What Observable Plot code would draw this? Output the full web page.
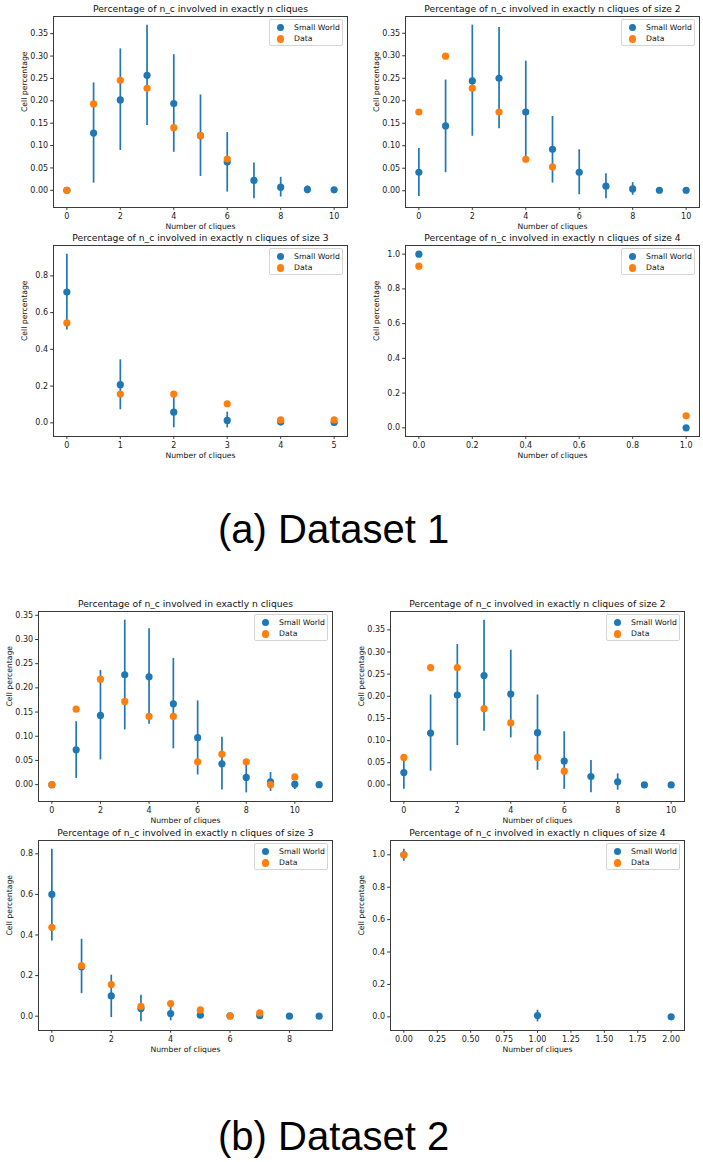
<!DOCTYPE html>
<html>
<head>
<meta charset="utf-8">
<script src="https://cdn.jsdelivr.net/npm/d3@7"></script>
<script src="https://cdn.jsdelivr.net/npm/@observablehq/plot@0.6"></script>
<style>
  html, body { margin: 0; padding: 0; background: #fff; overflow: hidden; }
  #page { position: relative; width: 703px; height: 1162px; background: #fff; }
  .panel { position: absolute; }
  .legend { position: absolute; box-sizing: border-box; width: 74px; height: 27px; border: 1px solid #d4d4d4; border-radius: 2px; background: rgba(255,255,255,0.8); font-family: "DejaVu Sans"; font-size: 7.7px; color: #111; }
  .legend .row { position: absolute; left: 0; height: 10px; width: 100%; }
  .legend .sw { position: absolute; width: 7.2px; height: 7.2px; border-radius: 50%; }
  .legend .lab { position: absolute; left: 24px; line-height: 10px; white-space: nowrap; }
  .caption { position: absolute; font-family: "Liberation Sans", Arial, sans-serif; font-size: 40px; line-height: 40px; color: #000; white-space: nowrap; }
</style>
</head>
<body>
<div id="page"></div>
<script>
// ---------- Data ----------
const blue = "#1f77b4", orange = "#ff7f0e";
const seriesNames = ["Small World", "Data"];
const xLabel = "Number of cliques";
const yLabel = "Cell percentage";

const titleAll = "Percentage of n_c involved in exactly n cliques";
const titleS2 = "Percentage of n_c involved in exactly n cliques of size 2";
const titleS3 = "Percentage of n_c involved in exactly n cliques of size 3";
const titleS4 = "Percentage of n_c involved in exactly n cliques of size 4";

// Dataset 1 — all cliques
const d1All_x    = [0, 1, 2, 3, 4, 5, 6, 7, 8, 9, 10];
const d1All_sw   = [0, 0.128, 0.202, 0.257, 0.194, 0.122, 0.063, 0.022, 0.007, 0.002, 0.001];
const d1All_lo   = [0, 0.016, 0.089, 0.145, 0.085, 0.031, -0.004, -0.019, -0.015, -0.008, -0.003];
const d1All_hi   = [0, 0.240, 0.316, 0.369, 0.303, 0.213, 0.129, 0.061, 0.029, 0.010, 0.004];
const d1All_dx   = [0, 1, 2, 3, 4, 5, 6];
const d1All_data = [0, 0.193, 0.246, 0.228, 0.140, 0.122, 0.070];

// Dataset 1 — size 2
const d1S2_x    = [0, 1, 2, 3, 4, 5, 6, 7, 8, 9, 10];
const d1S2_sw   = [0.041, 0.144, 0.244, 0.250, 0.175, 0.092, 0.041, 0.010, 0.004, 0.001, 0.001];
const d1S2_lo   = [-0.013, 0.040, 0.121, 0.138, 0.065, 0.017, -0.009, -0.018, -0.010, -0.002, -0.001];
const d1S2_hi   = [0.094, 0.246, 0.368, 0.363, 0.288, 0.165, 0.091, 0.038, 0.018, 0.003, 0.002];
const d1S2_dx   = [0, 1, 2, 3, 4, 5];
const d1S2_data = [0.175, 0.299, 0.228, 0.175, 0.070, 0.053];

// Dataset 1 — size 3
const d1S3_x    = [0, 1, 2, 3, 4, 5];
const d1S3_sw   = [0.712, 0.208, 0.058, 0.013, 0.004, 0.002];
const d1S3_lo   = [0.506, 0.071, -0.027, -0.027, -0.008, -0.004];
const d1S3_hi   = [0.918, 0.343, 0.150, 0.058, 0.016, 0.006];
const d1S3_dx   = [0, 1, 2, 3, 4, 5];
const d1S3_data = [0.544, 0.157, 0.157, 0.104, 0.016, 0.016];

// Dataset 1 — size 4
const d1S4_x    = [0, 1];
const d1S4_sw   = [1.0, 0.0];
const d1S4_lo   = [1.0, 0.0];
const d1S4_hi   = [1.0, 0.0];
const d1S4_dx   = [0, 1];
const d1S4_data = [0.931, 0.069];

// Dataset 2 — all cliques
const d2All_x    = [0, 1, 2, 3, 4, 5, 6, 7, 8, 9, 10, 11];
const d2All_sw   = [0, 0.072, 0.143, 0.227, 0.223, 0.167, 0.097, 0.043, 0.015, 0.006, 0.001, 0];
const d2All_lo   = [0, 0.013, 0.051, 0.113, 0.125, 0.074, 0.020, -0.011, -0.017, -0.014, -0.010, 0];
const d2All_hi   = [0, 0.130, 0.236, 0.340, 0.322, 0.261, 0.173, 0.098, 0.047, 0.025, 0.006, 0];
const d2All_dx   = [0, 1, 2, 3, 4, 5, 6, 7, 8, 9, 10];
const d2All_data = [0, 0.156, 0.218, 0.172, 0.141, 0.141, 0.047, 0.063, 0.047, 0, 0.016];

// Dataset 2 — size 2
const d2S2_x    = [0, 1, 2, 3, 4, 5, 6, 7, 8, 9, 10];
const d2S2_sw   = [0.028, 0.117, 0.203, 0.247, 0.205, 0.118, 0.054, 0.019, 0.007, 0, 0];
const d2S2_lo   = [-0.010, 0.031, 0.089, 0.121, 0.106, 0.033, -0.010, -0.018, -0.012, 0, 0];
const d2S2_hi   = [0.058, 0.203, 0.317, 0.372, 0.304, 0.203, 0.120, 0.055, 0.025, 0, 0];
const d2S2_dx   = [0, 1, 2, 3, 4, 5, 6];
const d2S2_data = [0.062, 0.265, 0.265, 0.172, 0.140, 0.062, 0.031];

// Dataset 2 — size 3
const d2S3_x    = [0, 1, 2, 3, 4, 5, 6, 7, 8, 9];
const d2S3_sw   = [0.600, 0.243, 0.100, 0.038, 0.013, 0.005, 0.002, 0.003, 0, 0];
const d2S3_lo   = [0.370, 0.111, -0.007, -0.028, -0.023, -0.006, 0, -0.004, 0, 0];
const d2S3_hi   = [0.823, 0.379, 0.202, 0.103, 0.046, 0.016, 0.004, 0.010, 0, 0];
const d2S3_dx   = [0, 1, 2, 3, 4, 5, 6, 7];
const d2S3_data = [0.438, 0.249, 0.156, 0.048, 0.062, 0.031, 0, 0.016];

// Dataset 2 — size 4
const d2S4_x    = [0, 1, 2];
const d2S4_sw   = [1.0, 0.008, 0];
const d2S4_lo   = [0.961, -0.031, 0];
const d2S4_hi   = [1.035, 0.041, 0];
const d2S4_dx   = [0];
const d2S4_data = [1.0];

// Tick values
const ticksPct35 = [0, 0.05, 0.10, 0.15, 0.20, 0.25, 0.30, 0.35];
const ticksPct08 = [0, 0.2, 0.4, 0.6, 0.8];
const ticksPct10 = [0, 0.2, 0.4, 0.6, 0.8, 1.0];
const ticksX10 = [0, 2, 4, 6, 8, 10];
const ticksX5 = [0, 1, 2, 3, 4, 5];
const ticksX8 = [0, 2, 4, 6, 8];
const ticksX1 = [0, 0.2, 0.4, 0.6, 0.8, 1.0];
const ticksX2 = [0, 0.25, 0.5, 0.75, 1.0, 1.25, 1.5, 1.75, 2.0];

const captions = ["(a) Dataset 1", "(b) Dataset 2"];

// ---------- Layout ----------
const panels = [
  {frame: [53, 16, 347, 207],   title: titleAll, x: d1All_x, sw: d1All_sw, lo: d1All_lo, hi: d1All_hi, dx: d1All_dx, data: d1All_data, xt: ticksX10, xf: ".0f", yt: ticksPct35, yf: ".2f"},
  {frame: [405, 16, 699, 207],  title: titleS2,  x: d1S2_x,  sw: d1S2_sw,  lo: d1S2_lo,  hi: d1S2_hi,  dx: d1S2_dx,  data: d1S2_data,  xt: ticksX10, xf: ".0f", yt: ticksPct35, yf: ".2f"},
  {frame: [53, 245, 347, 436],  title: titleS3,  x: d1S3_x,  sw: d1S3_sw,  lo: d1S3_lo,  hi: d1S3_hi,  dx: d1S3_dx,  data: d1S3_data,  xt: ticksX5,  xf: ".0f", yt: ticksPct08, yf: ".1f"},
  {frame: [405, 245, 699, 436], title: titleS4,  x: d1S4_x,  sw: d1S4_sw,  lo: d1S4_lo,  hi: d1S4_hi,  dx: d1S4_dx,  data: d1S4_data,  xt: ticksX1,  xf: ".1f", yt: ticksPct10, yf: ".1f"},
  {frame: [38, 611, 332, 801],  title: titleAll, x: d2All_x, sw: d2All_sw, lo: d2All_lo, hi: d2All_hi, dx: d2All_dx, data: d2All_data, xt: ticksX10, xf: ".0f", yt: ticksPct35, yf: ".2f"},
  {frame: [390, 611, 684, 801], title: titleS2,  x: d2S2_x,  sw: d2S2_sw,  lo: d2S2_lo,  hi: d2S2_hi,  dx: d2S2_dx,  data: d2S2_data,  xt: ticksX10, xf: ".0f", yt: ticksPct35, yf: ".2f"},
  {frame: [38, 840, 332, 1030], title: titleS3,  x: d2S3_x,  sw: d2S3_sw,  lo: d2S3_lo,  hi: d2S3_hi,  dx: d2S3_dx,  data: d2S3_data,  xt: ticksX8,  xf: ".0f", yt: ticksPct08, yf: ".1f"},
  {frame: [390, 840, 684, 1030],title: titleS4,  x: d2S4_x,  sw: d2S4_sw,  lo: d2S4_lo,  hi: d2S4_hi,  dx: d2S4_dx,  data: d2S4_data,  xt: ticksX2,  xf: ".2f", yt: ticksPct10, yf: ".1f"}
];

const page = document.getElementById("page");
const mL = 45, mR = 4, mT = 22, mB = 30;

function padDomain(vals) {
  const [a, b] = d3.extent(vals);
  const p = (b - a) * 0.05;
  return [a - p, b + p];
}

for (const P of panels) {
  const [l, t, r, b] = P.frame;
  const swRows = P.x.map((x, i) => ({x, y: P.sw[i], lo: P.lo[i], hi: P.hi[i]}));
  const dataRows = P.dx.map((x, i) => ({x, y: P.data[i]}));
  const xDomain = padDomain(P.x.concat(P.dx));
  const yDomain = padDomain(P.sw.concat(P.lo, P.hi, P.data));

  const chart = Plot.plot({
    width: (r - l) + mL + mR,
    height: (b - t) + mT + mB,
    marginLeft: mL, marginRight: mR, marginTop: mT, marginBottom: mB,
    style: {fontFamily: "DejaVu Sans", fontSize: "8px", color: "#1a1a1a", background: "transparent", overflow: "visible"},
    x: {domain: xDomain, label: null},
    y: {domain: yDomain, label: null},
    marks: [
      Plot.axisX({ticks: P.xt, tickFormat: d3.format(P.xf), tickSize: 2.8, tickPadding: 2.6, label: null, stroke: "#333"}),
      Plot.axisY({ticks: P.yt, tickFormat: d3.format(P.yf), tickSize: 2.8, tickPadding: 2.6, label: null, stroke: "#333"}),
      Plot.ruleX(swRows, {x: "x", y1: "lo", y2: "hi", stroke: blue, strokeWidth: 1.7}),
      Plot.dot(swRows, {x: "x", y: "y", r: 3.6, fill: blue}),
      Plot.dot(dataRows, {x: "x", y: "y", r: 3.6, fill: orange}),
      Plot.frame({stroke: "#3a3a3a", strokeWidth: 1}),
      Plot.text([P.title], {text: d => d, frameAnchor: "top", dy: -7.5, lineAnchor: "middle", fontSize: 9.2, fill: "#111"}),
      Plot.text([xLabel], {text: d => d, frameAnchor: "bottom", dy: 19.3, lineAnchor: "middle", fontSize: 7.7, fill: "#111"}),
      Plot.text([yLabel], {text: d => d, frameAnchor: "left", dx: -29, rotate: -90, lineAnchor: "middle", fontSize: 7.7, fill: "#111"})
    ]
  });
  chart.classList.add("panel");
  chart.style.left = (l - mL) + "px";
  chart.style.top = (t - mT) + "px";
  page.appendChild(chart);

  // legend
  const lg = document.createElement("div");
  lg.className = "legend";
  lg.style.left = (r - 4 - 74) + "px";
  lg.style.top = (t + 3) + "px";
  [[seriesNames[0], blue, 2.7], [seriesNames[1], orange, 14]].forEach(([name, col, top]) => {
    const row = document.createElement("div");
    row.className = "row";
    row.style.top = top + "px";
    const sw = document.createElement("span");
    sw.className = "sw";
    sw.style.background = col;
    sw.style.left = "6.8px";
    sw.style.top = "1.4px";
    const lab = document.createElement("span");
    lab.className = "lab";
    lab.textContent = name;
    row.appendChild(sw); row.appendChild(lab);
    lg.appendChild(row);
  });
  page.appendChild(lg);
}

// captions
[[captions[0], 218, 509], [captions[1], 218, 1116]].forEach(([txt, x, y]) => {
  const c = document.createElement("div");
  c.className = "caption";
  c.textContent = txt;
  c.style.left = x + "px";
  c.style.top = y + "px";
  page.appendChild(c);
});
</script>
</body>
</html>
